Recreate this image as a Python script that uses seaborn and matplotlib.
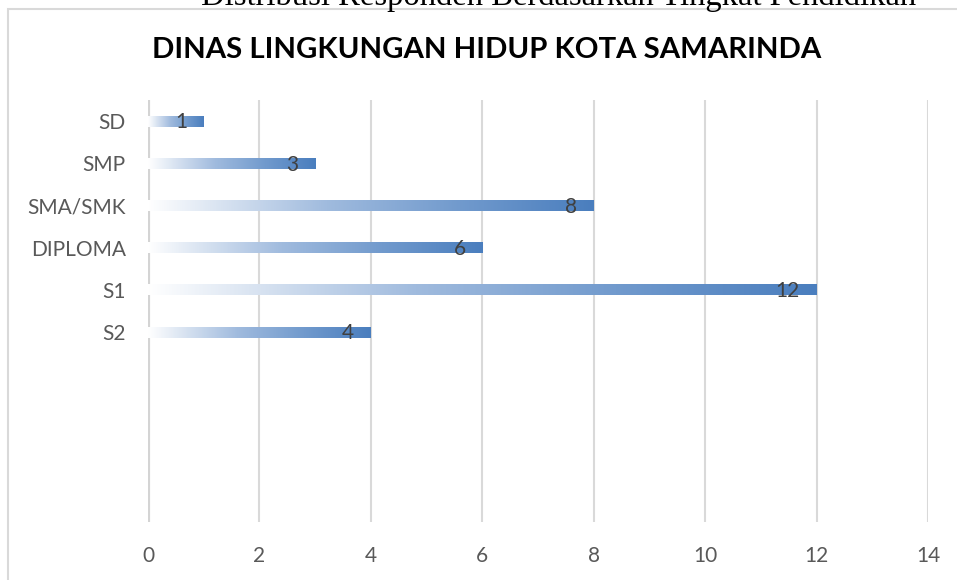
# Grafik batang horizontal dengan isi gradasi (gaya Excel)
import numpy as np
import pandas as pd
import seaborn as sns
import matplotlib.pyplot as plt
from matplotlib.colors import LinearSegmentedColormap
from matplotlib.patches import Rectangle

# Data
pendidikan = ['SD', 'SMP', 'SMA/SMK', 'DIPLOMA', 'S1', 'S2']
jumlah = [1, 3, 8, 6, 12, 4]
x_ticks = [0, 2, 4, 6, 8, 10, 12, 14]

judul_atas = 'Distribusi Responden Berdasarkan Tingkat Pendidikan'
judul = 'DINAS LINGKUNGAN HIDUP KOTA SAMARINDA'

df = pd.DataFrame({'Pendidikan': pendidikan, 'Jumlah': jumlah})

sns.set_style('white')
plt.rcParams['font.family'] = ['Lato', 'DejaVu Sans']

fig = plt.figure(figsize=(9.57, 5.8), dpi=100)
ax = fig.add_axes([148 / 957, 1 - 522 / 580, 780 / 957, 422 / 580])

sns.barplot(data=df, x='Jumlah', y='Pendidikan', orient='h', width=0.26,
            color='#4a7ebe', ax=ax, zorder=3)

# Isi gradasi putih -> biru untuk tiap batang
cmap = LinearSegmentedColormap.from_list('grad', [
    (0.0, '#ffffff'), (0.15, '#dbe5f2'), (0.4, '#a0bbde'),
    (0.7, '#719acd'), (1.0, '#4a7ebe')])
gradasi = np.linspace(0, 1, 256).reshape(1, -1)
for p in ax.patches:
    x0, y0 = p.get_x(), p.get_y()
    w, h = p.get_width(), p.get_height()
    p.set_alpha(0)
    im = ax.imshow(gradasi, cmap=cmap, extent=(x0, x0 + w, y0 + h, y0),
                   aspect='auto', zorder=3, interpolation='bilinear')
    im.set_clip_path(p)

# Label nilai
for i, v in enumerate(jumlah):
    ax.annotate(str(v), xy=(v, i), xytext=(-12, -1), textcoords='offset points',
                ha='right', va='center', fontsize=15, color='#404040', zorder=4)

ax.set_xlim(0, 14)
ax.set_ylim(9.5, -0.5)
ax.set_xticks(x_ticks)
ax.set_xlabel('')
ax.set_ylabel('')
ax.grid(axis='x', color='#d9d9d9', linewidth=1.5, zorder=0)
ax.axvline(0, color='#d4d4d4', linewidth=3, zorder=2)
for s in ax.spines.values():
    s.set_visible(False)
ax.tick_params(axis='x', length=0, pad=17, labelsize=15, labelcolor='#595959')
ax.tick_params(axis='y', length=0, pad=16, labelsize=15, labelcolor='#595959')

# Bingkai grafik
fig.patches.append(Rectangle((8 / 957, -0.05), 1.1, 1 - 9 / 580 + 0.05,
                             transform=fig.transFigure, fill=False,
                             edgecolor='#d9d9d9', linewidth=1.5))

fig.text(487 / 957, 1 - 50 / 580, judul, ha='center', va='center',
         fontsize=21.2, fontweight='bold', color='#000000')
fig.text(559 / 957, 1 - 5 / 580, judul_atas, ha='center', va='baseline',
         fontsize=23.5, family=['Liberation Serif'], color='#000000')

fig.savefig('out.png', dpi=100)
